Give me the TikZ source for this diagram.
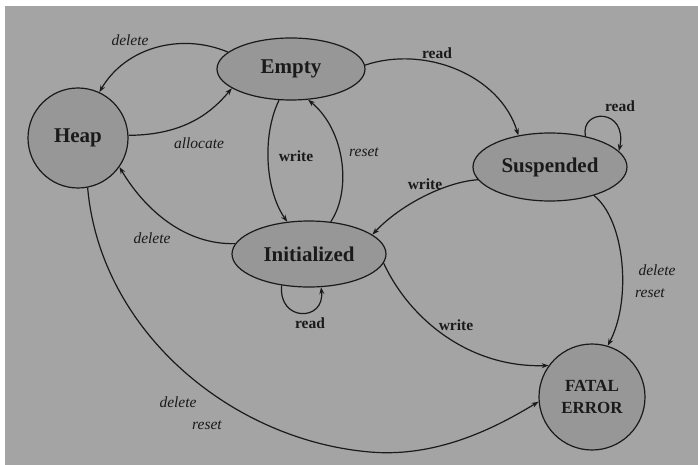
\documentclass[tikz,border=0pt]{standalone}
\usepackage{fontspec}
\setmainfont{Liberation Serif}
\usetikzlibrary{shapes.geometric,arrows.meta}
\definecolor{bggray}{HTML}{A4A4A4}
\definecolor{nodegray}{HTML}{979797}
\definecolor{ink}{HTML}{1A1A1A}
\tikzset{
  state/.style={draw=ink, line width=1.2pt, fill=nodegray, inner sep=0pt, text=ink,
    font=\fontsize{21}{23}\selectfont\bfseries},
  ell/.style={state, ellipse},
  circ/.style={state, circle},
  edge/.style={draw=ink, line width=1.2pt, -{Stealth[length=7pt,width=5pt]}},
  lbl/.style={font=\fontsize{15.5}{17}\selectfont\itshape, text=ink, inner sep=0pt},
  lblb/.style={font=\fontsize{15.5}{17}\selectfont\bfseries, text=ink, inner sep=0pt},
}
\begin{document}
\begin{tikzpicture}[x=1pt,y=-1pt]
\useasboundingbox (0,0) rectangle (698,465);
\fill[white] (0,0) rectangle (698,465);
\fill[bggray] (5,6) rectangle (698,465);

\node[ell, minimum width=148pt, minimum height=62pt] (empty) at (291,69) {Empty};
\node[circ, minimum size=100pt] (heap) at (78,138) {Heap};
\node[ell, minimum width=154pt, minimum height=68pt] (susp) at (550,167) {Suspended};
\node[ell, minimum width=154pt, minimum height=66pt] (init) at (309,254) {Initialized};
\node[circ, minimum size=106pt, align=center, font=\fontsize{17}{22}\selectfont\bfseries] (fatal) at (592,397) {FATAL\\ERROR};
\coordinate (hb) at (370,452);

\draw[edge] (empty.165) .. controls (180,32) and (125,48) .. (heap.65);
\draw[edge] (heap.3) .. controls (185,135) and (212,112) .. (empty.198);
\draw[edge] (empty.249) .. controls (262,135) and (265,190) .. (init.124);
\draw[edge] (init.56) .. controls (352,190) and (345,130) .. (empty.299);
\draw[edge] (empty.3) .. controls (425,45) and (500,75) .. (susp.135);
\draw[edge] (susp.41) .. controls (580,108) and (628,108) .. (susp.13);
\draw[edge] (susp.190) .. controls (445,182) and (400,205) .. (init.17);
\draw[edge] (init.172) .. controls (185,245) and (145,210) .. (heap.325);
\draw[edge] (init.229) .. controls (278,322) and (325,322) .. (init.290);
\draw[edge] (init.353) .. controls (410,320) and (470,368) .. (fatal.144);
\draw[edge] (susp.327) .. controls (625,220) and (632,300) .. (fatal.73);
\draw[edge] (heap.281) .. controls (100,330) and (230,440) .. (hb) .. controls (440,458) and (500,425) .. (fatal.185);

\node[lbl] (l1) at (130,40) {delete};
\node[lbl] (l2) at (199,143) {allocate};
\node[lblb] (l3) at (296,156) {write};
\node[lbl] (l4) at (364,152) {reset};
\node[lblb] (l5) at (437,53) {read};
\node[lblb] (l6) at (620,106) {read};
\node[lblb] (l7) at (425,184) {write};
\node[lbl] (l8) at (152,238) {delete};
\node[lblb] (l9) at (310,323) {read};
\node[lblb] (l10) at (456,325) {write};
\node[lbl] (l11) at (657,270) {delete};
\node[lbl] (l12) at (650,293) {reset};
\node[lbl] (l13) at (178,402) {delete};
\node[lbl] (l14) at (207,425) {reset};
\end{tikzpicture}
\end{document}
